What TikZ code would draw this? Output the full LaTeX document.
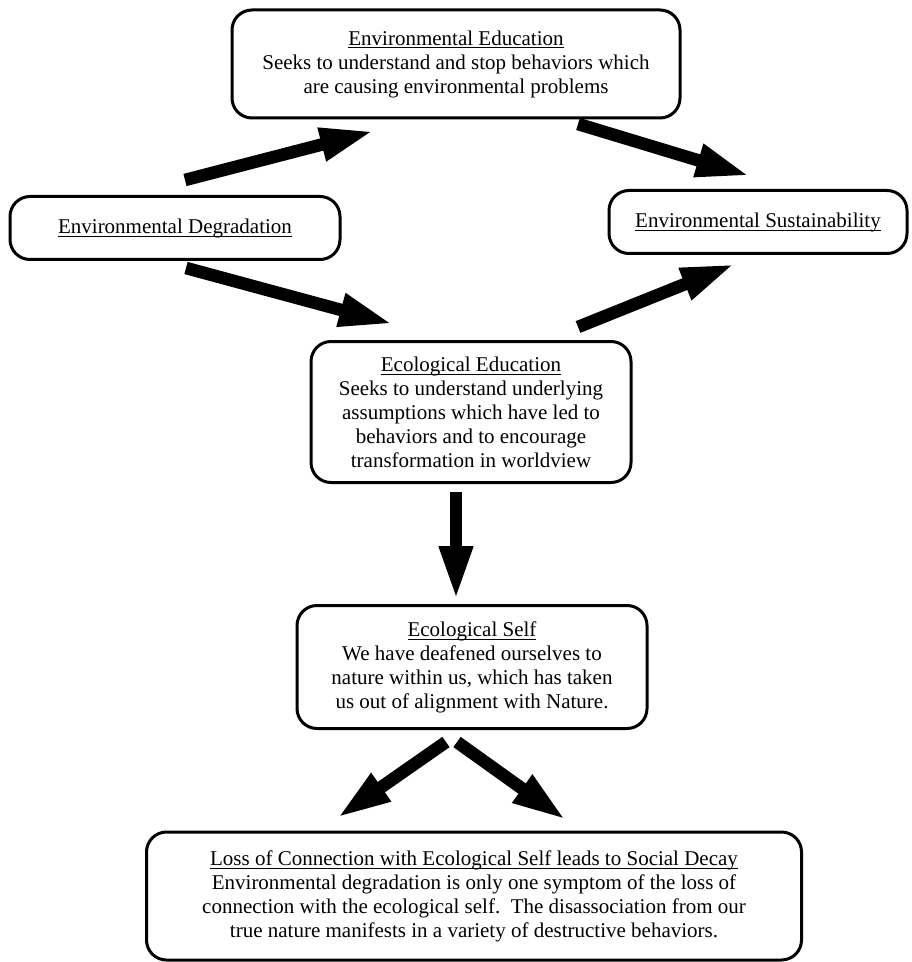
\documentclass[tikz,border=0pt]{standalone}
\usepackage{fontspec}
\setmainfont{Liberation Serif}
\usetikzlibrary{arrows.meta}

% underline that sits close to the baseline
\newcommand{\boxtitle}[1]{\underline{\raisebox{0pt}[\height][0pt]{#1}}}

\tikzset{
  box/.style={draw, line width=1.5pt, rounded corners=10pt, align=center,
    inner sep=3pt, font=\fontsize{10.5}{12}\selectfont},
  bigarrow/.style={line width=6.3pt, -{Triangle[width=15.5pt,length=27pt]}},
}

\begin{document}
\begin{tikzpicture}[x=0.5pt,y=-0.5pt] % one unit = one pixel of the original

    \useasboundingbox (0,0) rectangle (911,962);

    % Boxes
    \node[box, minimum width=224pt, minimum height=54pt] (envedu) at (456,64)
      {\boxtitle{Environmental Education}\\
       Seeks to understand and stop behaviors which\\
       are causing environmental problems};
    \node[box, minimum width=165pt, minimum height=31.5pt] (envdeg) at (175,228)
      {\boxtitle{Environmental Degradation}};
    \node[box, minimum width=149pt, minimum height=31.5pt] (envsust) at (758,222)
      {\boxtitle{Environmental Sustainability}};
    \node[box, minimum width=160pt, minimum height=70.5pt] (ecoedu) at (471,412)
      {\boxtitle{Ecological Education}\\
       Seeks to understand underlying\\
       assumptions which have led to\\
       behaviors and to encourage\\
       transformation in worldview};
    \node[box, minimum width=175pt, minimum height=61.5pt] (ecoself) at (472,667)
      {\boxtitle{Ecological Self}\\
       We have deafened ourselves to\\
       nature within us, which has taken\\
       us out of alignment with Nature.};
    \node[box, minimum width=327.5pt, minimum height=64pt] (decay) at (474,896)
      {\boxtitle{Loss of Connection with Ecological Self leads to Social Decay}\\
       Environmental degradation is only one symptom of the loss of\\
       connection with the ecological self.\ \ The disassociation from our\\
       true nature manifests in a variety of destructive behaviors.};

    % Arrow ends
    \coordinate (degout1) at (185,180);
    \coordinate (eduin) at (374,131);
    \coordinate (eduout) at (578,124);
    \coordinate (sustin1) at (750,176);
    \coordinate (degout2) at (186,268);
    \coordinate (ecoin) at (393,324);
    \coordinate (ecoout) at (578,327);
    \coordinate (sustin2) at (735,264);
    \coordinate (ecodown) at (456,492);
    \coordinate (selfin) at (456,600);
    \coordinate (selfoutl) at (446,742);
    \coordinate (decayinl) at (337,818);
    \coordinate (selfoutr) at (457,742);
    \coordinate (decayinr) at (566,820);

    % Arrows
    \draw[bigarrow] (degout1) -- (eduin);
    \draw[bigarrow] (eduout) -- (sustin1);
    \draw[bigarrow] (degout2) -- (ecoin);
    \draw[bigarrow] (ecoout) -- (sustin2);
    \draw[bigarrow] (ecodown) -- (selfin);
    \draw[bigarrow] (selfoutl) -- (decayinl);
    \draw[bigarrow] (selfoutr) -- (decayinr);

\end{tikzpicture}
\end{document}
